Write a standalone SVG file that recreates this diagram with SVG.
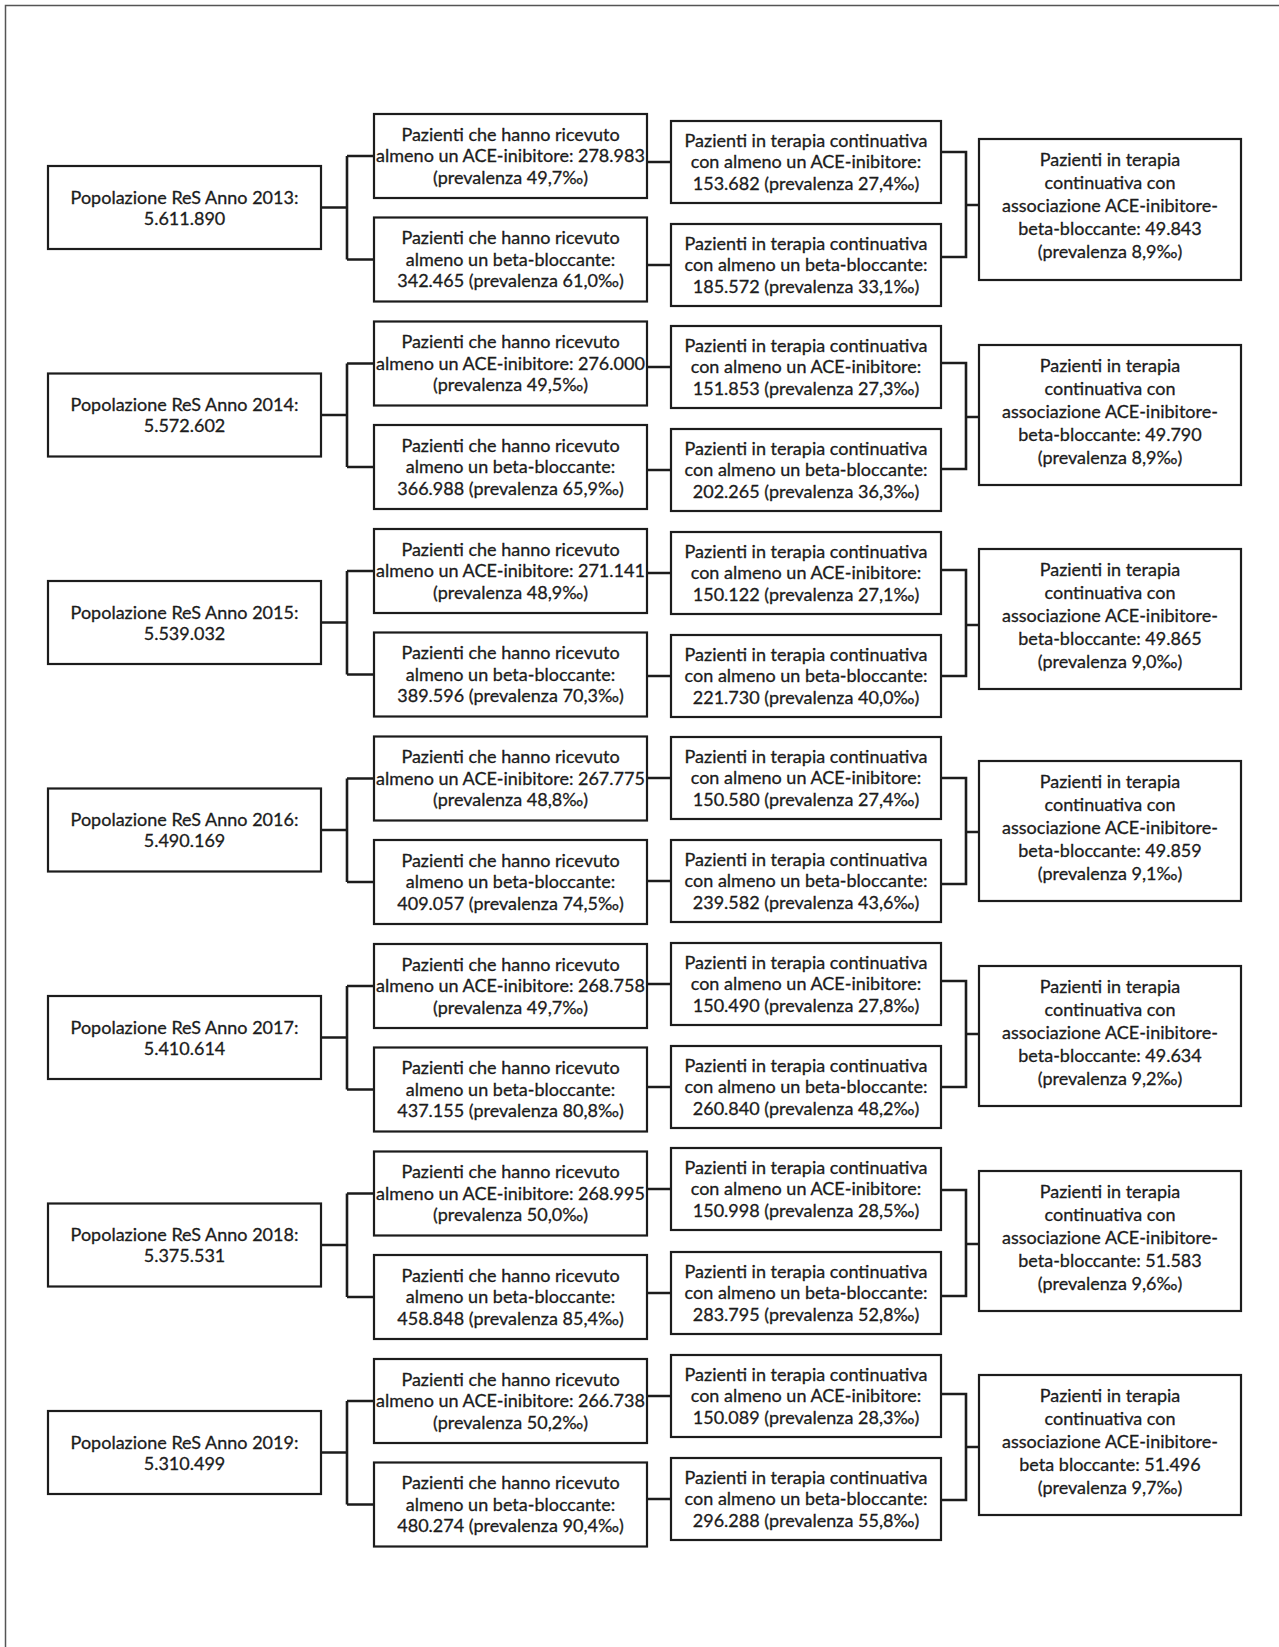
<svg xmlns="http://www.w3.org/2000/svg" width="1279" height="1647" viewBox="0 0 1279 1647">
<style>
.box{fill:#fff;stroke:#1c1c1c;stroke-width:2.2}
.ln{fill:none;stroke:#1c1c1c;stroke-width:2.6}
.frame{fill:none;stroke:#555;stroke-width:1.5}
.t{font-family:Lato,"Open Sans","Liberation Sans",sans-serif;font-size:18px;fill:#1c1c1c;stroke:#1c1c1c;stroke-width:0.3;text-anchor:middle}
</style>
<rect x="0" y="0" width="1279" height="1647" fill="#fff"/>
<path class="frame" d="M5.5,1647 V5.5 H1279"/>
<g id="connectors">
<path class="ln" d="M321,207.5 H347 M347,156 V259.5 M347,156 H374 M347,259.5 H374 M647,162 H671 M647,265 H671 M941,152 H966 V257 H941 M966,205 H979"/>
<path class="ln" d="M321,415 H347 M347,363.5 V467 M347,363.5 H374 M347,467 H374 M647,367 H671 M647,470 H671 M941,363 H966 V469 H941 M966,417 H979"/>
<path class="ln" d="M321,622.5 H347 M347,571 V674.5 M347,571 H374 M347,674.5 H374 M647,573 H671 M647,676 H671 M941,570 H966 V676 H941 M966,625 H979"/>
<path class="ln" d="M321,830 H347 M347,778.5 V882 M347,778.5 H374 M347,882 H374 M647,778 H671 M647,881 H671 M941,778 H966 V884 H941 M966,832 H979"/>
<path class="ln" d="M321,1037.5 H347 M347,986 V1089.5 M347,986 H374 M347,1089.5 H374 M647,984 H671 M647,1087 H671 M941,981 H966 V1087 H941 M966,1034 H979"/>
<path class="ln" d="M321,1245 H347 M347,1193.5 V1297 M347,1193.5 H374 M347,1297 H374 M647,1189 H671 M647,1293 H671 M941,1190 H966 V1296 H941 M966,1244 H979"/>
<path class="ln" d="M321,1452.5 H347 M347,1401 V1504.5 M347,1401 H374 M347,1504.5 H374 M647,1396 H671 M647,1499 H671 M941,1394 H966 V1500 H941 M966,1447 H979"/>
</g>

<g id="pop2013"><rect class="box" x="48" y="166" width="273" height="83"/><text class="t"><tspan x="184.5" y="203.5">Popolazione ReS Anno 2013:</tspan><tspan x="184.5" y="224.5">5.611.890</tspan></text></g>
<g id="ace2013"><rect class="box" x="374" y="114" width="273" height="84"/><text class="t"><tspan x="510.5" y="140.5">Pazienti che hanno ricevuto</tspan><tspan x="510.5" y="162">almeno un ACE-inibitore: 278.983</tspan><tspan x="510.5" y="183.5">(prevalenza 49,7‰)</tspan></text></g>
<g id="beta2013"><rect class="box" x="374" y="217.5" width="273" height="84"/><text class="t"><tspan x="510.5" y="244">Pazienti che hanno ricevuto</tspan><tspan x="510.5" y="265.5">almeno un beta-bloccante:</tspan><tspan x="510.5" y="287">342.465 (prevalenza 61,0‰)</tspan></text></g>
<g id="cace2013"><rect class="box" x="671" y="121" width="270" height="82"/><text class="t"><tspan x="806" y="146.5">Pazienti in terapia continuativa</tspan><tspan x="806" y="168">con almeno un ACE-inibitore:</tspan><tspan x="806" y="189.5">153.682 (prevalenza 27,4‰)</tspan></text></g>
<g id="cbeta2013"><rect class="box" x="671" y="224" width="270" height="82"/><text class="t"><tspan x="806" y="249.5">Pazienti in terapia continuativa</tspan><tspan x="806" y="271">con almeno un beta-bloccante:</tspan><tspan x="806" y="292.5">185.572 (prevalenza 33,1‰)</tspan></text></g>
<g id="assoc2013"><rect class="box" x="979" y="139" width="262" height="141"/><text class="t"><tspan x="1110" y="165.5">Pazienti in terapia</tspan><tspan x="1110" dy="23">continuativa con</tspan><tspan x="1110" dy="23">associazione ACE-inibitore-</tspan><tspan x="1110" dy="23">beta-bloccante: 49.843</tspan><tspan x="1110" dy="23">(prevalenza 8,9‰)</tspan></text></g>

<g id="pop2014"><rect class="box" x="48" y="373.5" width="273" height="83"/><text class="t"><tspan x="184.5" y="411">Popolazione ReS Anno 2014:</tspan><tspan x="184.5" y="432">5.572.602</tspan></text></g>
<g id="ace2014"><rect class="box" x="374" y="321.5" width="273" height="84"/><text class="t"><tspan x="510.5" y="348">Pazienti che hanno ricevuto</tspan><tspan x="510.5" y="369.5">almeno un ACE-inibitore: 276.000</tspan><tspan x="510.5" y="391">(prevalenza 49,5‰)</tspan></text></g>
<g id="beta2014"><rect class="box" x="374" y="425" width="273" height="84"/><text class="t"><tspan x="510.5" y="451.5">Pazienti che hanno ricevuto</tspan><tspan x="510.5" y="473">almeno un beta-bloccante:</tspan><tspan x="510.5" y="494.5">366.988 (prevalenza 65,9‰)</tspan></text></g>
<g id="cace2014"><rect class="box" x="671" y="326" width="270" height="82"/><text class="t"><tspan x="806" y="351.5">Pazienti in terapia continuativa</tspan><tspan x="806" y="373">con almeno un ACE-inibitore:</tspan><tspan x="806" y="394.5">151.853 (prevalenza 27,3‰)</tspan></text></g>
<g id="cbeta2014"><rect class="box" x="671" y="429" width="270" height="82"/><text class="t"><tspan x="806" y="454.5">Pazienti in terapia continuativa</tspan><tspan x="806" y="476">con almeno un beta-bloccante:</tspan><tspan x="806" y="497.5">202.265 (prevalenza 36,3‰)</tspan></text></g>
<g id="assoc2014"><rect class="box" x="979" y="345" width="262" height="140"/><text class="t"><tspan x="1110" y="371.5">Pazienti in terapia</tspan><tspan x="1110" dy="23">continuativa con</tspan><tspan x="1110" dy="23">associazione ACE-inibitore-</tspan><tspan x="1110" dy="23">beta-bloccante: 49.790</tspan><tspan x="1110" dy="23">(prevalenza 8,9‰)</tspan></text></g>

<g id="pop2015"><rect class="box" x="48" y="581" width="273" height="83"/><text class="t"><tspan x="184.5" y="618.5">Popolazione ReS Anno 2015:</tspan><tspan x="184.5" y="639.5">5.539.032</tspan></text></g>
<g id="ace2015"><rect class="box" x="374" y="529" width="273" height="84"/><text class="t"><tspan x="510.5" y="555.5">Pazienti che hanno ricevuto</tspan><tspan x="510.5" y="577">almeno un ACE-inibitore: 271.141</tspan><tspan x="510.5" y="598.5">(prevalenza 48,9‰)</tspan></text></g>
<g id="beta2015"><rect class="box" x="374" y="632.5" width="273" height="84"/><text class="t"><tspan x="510.5" y="659">Pazienti che hanno ricevuto</tspan><tspan x="510.5" y="680.5">almeno un beta-bloccante:</tspan><tspan x="510.5" y="702">389.596 (prevalenza 70,3‰)</tspan></text></g>
<g id="cace2015"><rect class="box" x="671" y="532" width="270" height="82"/><text class="t"><tspan x="806" y="557.5">Pazienti in terapia continuativa</tspan><tspan x="806" y="579">con almeno un ACE-inibitore:</tspan><tspan x="806" y="600.5">150.122 (prevalenza 27,1‰)</tspan></text></g>
<g id="cbeta2015"><rect class="box" x="671" y="635" width="270" height="82"/><text class="t"><tspan x="806" y="660.5">Pazienti in terapia continuativa</tspan><tspan x="806" y="682">con almeno un beta-bloccante:</tspan><tspan x="806" y="703.5">221.730 (prevalenza 40,0‰)</tspan></text></g>
<g id="assoc2015"><rect class="box" x="979" y="549" width="262" height="140"/><text class="t"><tspan x="1110" y="575.5">Pazienti in terapia</tspan><tspan x="1110" dy="23">continuativa con</tspan><tspan x="1110" dy="23">associazione ACE-inibitore-</tspan><tspan x="1110" dy="23">beta-bloccante: 49.865</tspan><tspan x="1110" dy="23">(prevalenza 9,0‰)</tspan></text></g>

<g id="pop2016"><rect class="box" x="48" y="788.5" width="273" height="83"/><text class="t"><tspan x="184.5" y="826">Popolazione ReS Anno 2016:</tspan><tspan x="184.5" y="847">5.490.169</tspan></text></g>
<g id="ace2016"><rect class="box" x="374" y="736.5" width="273" height="84"/><text class="t"><tspan x="510.5" y="763">Pazienti che hanno ricevuto</tspan><tspan x="510.5" y="784.5">almeno un ACE-inibitore: 267.775</tspan><tspan x="510.5" y="806">(prevalenza 48,8‰)</tspan></text></g>
<g id="beta2016"><rect class="box" x="374" y="840" width="273" height="84"/><text class="t"><tspan x="510.5" y="866.5">Pazienti che hanno ricevuto</tspan><tspan x="510.5" y="888">almeno un beta-bloccante:</tspan><tspan x="510.5" y="909.5">409.057 (prevalenza 74,5‰)</tspan></text></g>
<g id="cace2016"><rect class="box" x="671" y="737" width="270" height="82"/><text class="t"><tspan x="806" y="762.5">Pazienti in terapia continuativa</tspan><tspan x="806" y="784">con almeno un ACE-inibitore:</tspan><tspan x="806" y="805.5">150.580 (prevalenza 27,4‰)</tspan></text></g>
<g id="cbeta2016"><rect class="box" x="671" y="840" width="270" height="82"/><text class="t"><tspan x="806" y="865.5">Pazienti in terapia continuativa</tspan><tspan x="806" y="887">con almeno un beta-bloccante:</tspan><tspan x="806" y="908.5">239.582 (prevalenza 43,6‰)</tspan></text></g>
<g id="assoc2016"><rect class="box" x="979" y="761" width="262" height="140"/><text class="t"><tspan x="1110" y="787.5">Pazienti in terapia</tspan><tspan x="1110" dy="23">continuativa con</tspan><tspan x="1110" dy="23">associazione ACE-inibitore-</tspan><tspan x="1110" dy="23">beta-bloccante: 49.859</tspan><tspan x="1110" dy="23">(prevalenza 9,1‰)</tspan></text></g>

<g id="pop2017"><rect class="box" x="48" y="996" width="273" height="83"/><text class="t"><tspan x="184.5" y="1033.5">Popolazione ReS Anno 2017:</tspan><tspan x="184.5" y="1054.5">5.410.614</tspan></text></g>
<g id="ace2017"><rect class="box" x="374" y="944" width="273" height="84"/><text class="t"><tspan x="510.5" y="970.5">Pazienti che hanno ricevuto</tspan><tspan x="510.5" y="992">almeno un ACE-inibitore: 268.758</tspan><tspan x="510.5" y="1013.5">(prevalenza 49,7‰)</tspan></text></g>
<g id="beta2017"><rect class="box" x="374" y="1047.5" width="273" height="84"/><text class="t"><tspan x="510.5" y="1074">Pazienti che hanno ricevuto</tspan><tspan x="510.5" y="1095.5">almeno un beta-bloccante:</tspan><tspan x="510.5" y="1117">437.155 (prevalenza 80,8‰)</tspan></text></g>
<g id="cace2017"><rect class="box" x="671" y="943" width="270" height="82"/><text class="t"><tspan x="806" y="968.5">Pazienti in terapia continuativa</tspan><tspan x="806" y="990">con almeno un ACE-inibitore:</tspan><tspan x="806" y="1011.5">150.490 (prevalenza 27,8‰)</tspan></text></g>
<g id="cbeta2017"><rect class="box" x="671" y="1046" width="270" height="82"/><text class="t"><tspan x="806" y="1071.5">Pazienti in terapia continuativa</tspan><tspan x="806" y="1093">con almeno un beta-bloccante:</tspan><tspan x="806" y="1114.5">260.840 (prevalenza 48,2‰)</tspan></text></g>
<g id="assoc2017"><rect class="box" x="979" y="966" width="262" height="140"/><text class="t"><tspan x="1110" y="992.5">Pazienti in terapia</tspan><tspan x="1110" dy="23">continuativa con</tspan><tspan x="1110" dy="23">associazione ACE-inibitore-</tspan><tspan x="1110" dy="23">beta-bloccante: 49.634</tspan><tspan x="1110" dy="23">(prevalenza 9,2‰)</tspan></text></g>

<g id="pop2018"><rect class="box" x="48" y="1203.5" width="273" height="83"/><text class="t"><tspan x="184.5" y="1241">Popolazione ReS Anno 2018:</tspan><tspan x="184.5" y="1262">5.375.531</tspan></text></g>
<g id="ace2018"><rect class="box" x="374" y="1151.5" width="273" height="84"/><text class="t"><tspan x="510.5" y="1178">Pazienti che hanno ricevuto</tspan><tspan x="510.5" y="1199.5">almeno un ACE-inibitore: 268.995</tspan><tspan x="510.5" y="1221">(prevalenza 50,0‰)</tspan></text></g>
<g id="beta2018"><rect class="box" x="374" y="1255" width="273" height="84"/><text class="t"><tspan x="510.5" y="1281.5">Pazienti che hanno ricevuto</tspan><tspan x="510.5" y="1303">almeno un beta-bloccante:</tspan><tspan x="510.5" y="1324.5">458.848 (prevalenza 85,4‰)</tspan></text></g>
<g id="cace2018"><rect class="box" x="671" y="1148" width="270" height="82"/><text class="t"><tspan x="806" y="1173.5">Pazienti in terapia continuativa</tspan><tspan x="806" y="1195">con almeno un ACE-inibitore:</tspan><tspan x="806" y="1216.5">150.998 (prevalenza 28,5‰)</tspan></text></g>
<g id="cbeta2018"><rect class="box" x="671" y="1252" width="270" height="82"/><text class="t"><tspan x="806" y="1277.5">Pazienti in terapia continuativa</tspan><tspan x="806" y="1299">con almeno un beta-bloccante:</tspan><tspan x="806" y="1320.5">283.795 (prevalenza 52,8‰)</tspan></text></g>
<g id="assoc2018"><rect class="box" x="979" y="1171" width="262" height="140"/><text class="t"><tspan x="1110" y="1197.5">Pazienti in terapia</tspan><tspan x="1110" dy="23">continuativa con</tspan><tspan x="1110" dy="23">associazione ACE-inibitore-</tspan><tspan x="1110" dy="23">beta-bloccante: 51.583</tspan><tspan x="1110" dy="23">(prevalenza 9,6‰)</tspan></text></g>

<g id="pop2019"><rect class="box" x="48" y="1411" width="273" height="83"/><text class="t"><tspan x="184.5" y="1448.5">Popolazione ReS Anno 2019:</tspan><tspan x="184.5" y="1469.5">5.310.499</tspan></text></g>
<g id="ace2019"><rect class="box" x="374" y="1359" width="273" height="84"/><text class="t"><tspan x="510.5" y="1385.5">Pazienti che hanno ricevuto</tspan><tspan x="510.5" y="1407">almeno un ACE-inibitore: 266.738</tspan><tspan x="510.5" y="1428.5">(prevalenza 50,2‰)</tspan></text></g>
<g id="beta2019"><rect class="box" x="374" y="1462.5" width="273" height="84"/><text class="t"><tspan x="510.5" y="1489">Pazienti che hanno ricevuto</tspan><tspan x="510.5" y="1510.5">almeno un beta-bloccante:</tspan><tspan x="510.5" y="1532">480.274 (prevalenza 90,4‰)</tspan></text></g>
<g id="cace2019"><rect class="box" x="671" y="1355" width="270" height="82"/><text class="t"><tspan x="806" y="1380.5">Pazienti in terapia continuativa</tspan><tspan x="806" y="1402">con almeno un ACE-inibitore:</tspan><tspan x="806" y="1423.5">150.089 (prevalenza 28,3‰)</tspan></text></g>
<g id="cbeta2019"><rect class="box" x="671" y="1458" width="270" height="82"/><text class="t"><tspan x="806" y="1483.5">Pazienti in terapia continuativa</tspan><tspan x="806" y="1505">con almeno un beta-bloccante:</tspan><tspan x="806" y="1526.5">296.288 (prevalenza 55,8‰)</tspan></text></g>
<g id="assoc2019"><rect class="box" x="979" y="1375" width="262" height="140"/><text class="t"><tspan x="1110" y="1401.5">Pazienti in terapia</tspan><tspan x="1110" dy="23">continuativa con</tspan><tspan x="1110" dy="23">associazione ACE-inibitore-</tspan><tspan x="1110" dy="23">beta bloccante: 51.496</tspan><tspan x="1110" dy="23">(prevalenza 9,7‰)</tspan></text></g>
</svg>
